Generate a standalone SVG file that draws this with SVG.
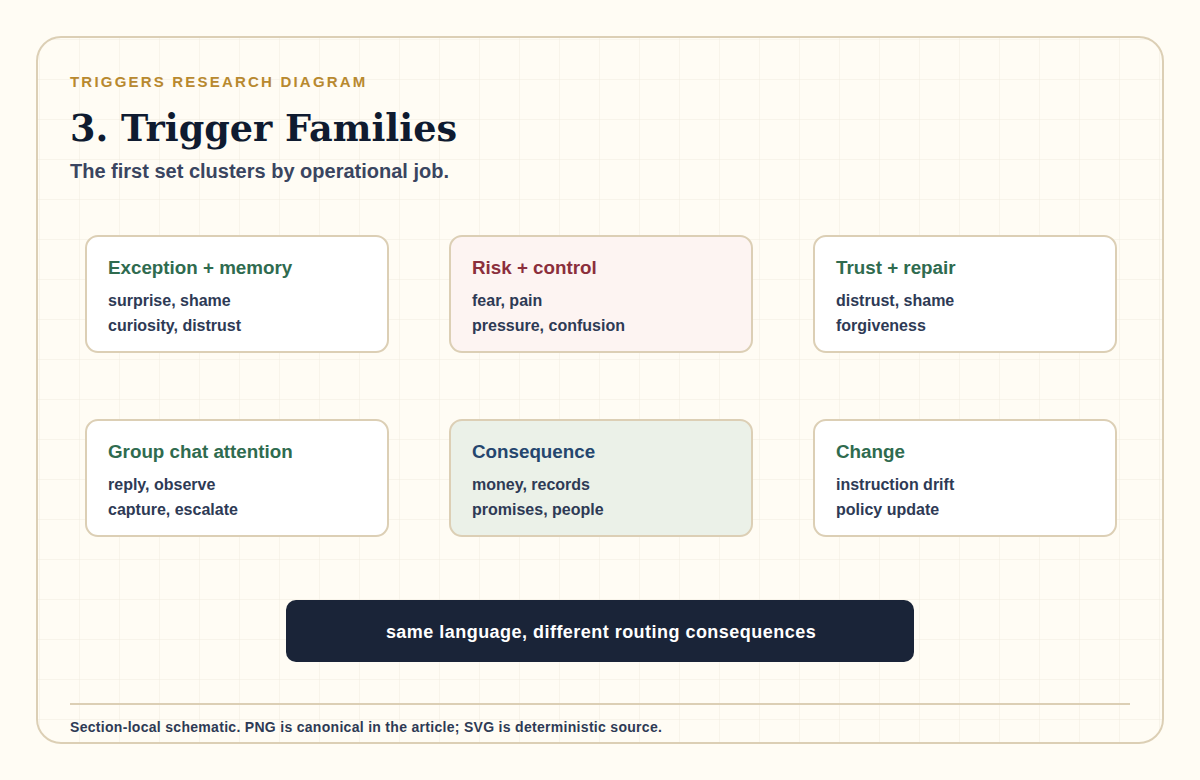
<svg xmlns="http://www.w3.org/2000/svg" width="1200" height="780" viewBox="0 0 1200 780">
<defs>
<pattern id="grid" x="0" y="0" width="40" height="40" patternUnits="userSpaceOnUse">
<path d="M40 0V40M0 40H40" fill="none" stroke="#f1ede0" stroke-width="1"/>
</pattern>
<style>
.node{fill:#ffffff;stroke:#dccfb5;stroke-width:2}
.ttl{font-family:"Liberation Sans",Arial,sans-serif;font-weight:bold;font-size:18.8px;fill:#2f6b4f}
.ln{font-family:"Liberation Sans",Arial,sans-serif;font-weight:bold;font-size:16px;fill:#2e3a55}
</style>
</defs>
<rect width="1200" height="780" fill="#fffcf4"/>
<rect x="37" y="37" width="1126" height="706" rx="24" fill="url(#grid)"/>
<rect x="37" y="37" width="1126" height="706" rx="24" fill="none" stroke="#dccfb5" stroke-width="2"/>
<text x="70" y="87" font-family="Liberation Sans,Arial,sans-serif" font-weight="bold" font-size="15" letter-spacing="2.2" fill="#b8892f">TRIGGERS RESEARCH DIAGRAM</text>
<text x="70" y="141" font-family="DejaVu Serif,Liberation Serif,serif" font-weight="bold" font-size="36.6" fill="#0f1b30">3. Trigger Families</text>
<text x="70" y="178" font-family="Liberation Sans,Arial,sans-serif" font-weight="bold" font-size="20" fill="#3a4560">The first set clusters by operational job.</text>
<g id="connectors"/>
<g id="n1"><rect class="node" x="86" y="236" width="302" height="116" rx="12"/><text class="ttl" x="108" y="274">Exception + memory</text><text class="ln" x="108" y="306">surprise, shame</text><text class="ln" x="108" y="331">curiosity, distrust</text></g>
<g id="n2"><rect class="node" x="450" y="236" width="302" height="116" rx="12" style="fill:#fdf4f2"/><text class="ttl" x="472" y="274" style="fill:#8b2f3c">Risk + control</text><text class="ln" x="472" y="306">fear, pain</text><text class="ln" x="472" y="331">pressure, confusion</text></g>
<g id="n3"><rect class="node" x="814" y="236" width="302" height="116" rx="12"/><text class="ttl" x="836" y="274">Trust + repair</text><text class="ln" x="836" y="306">distrust, shame</text><text class="ln" x="836" y="331">forgiveness</text></g>
<g id="n4"><rect class="node" x="86" y="420" width="302" height="116" rx="12"/><text class="ttl" x="108" y="458">Group chat attention</text><text class="ln" x="108" y="490">reply, observe</text><text class="ln" x="108" y="515">capture, escalate</text></g>
<g id="n5"><rect class="node" x="450" y="420" width="302" height="116" rx="12" style="fill:#ebf1e8"/><text class="ttl" x="472" y="458" style="fill:#24466e">Consequence</text><text class="ln" x="472" y="490">money, records</text><text class="ln" x="472" y="515">promises, people</text></g>
<g id="n6"><rect class="node" x="814" y="420" width="302" height="116" rx="12"/><text class="ttl" x="836" y="458">Change</text><text class="ln" x="836" y="490">instruction drift</text><text class="ln" x="836" y="515">policy update</text></g>
<g id="banner"><rect x="286" y="600" width="628" height="62" rx="10" fill="#1a2438"/><text x="601" y="638" text-anchor="middle" font-family="Liberation Sans,Arial,sans-serif" font-weight="bold" font-size="18" letter-spacing="0.47" fill="#ffffff">same language, different routing consequences</text></g>
<line x1="70" y1="704" x2="1130" y2="704" stroke="#dccfb5" stroke-width="2"/>
<text x="70" y="732" font-family="Liberation Sans,Arial,sans-serif" font-weight="bold" font-size="14" letter-spacing="0.3" fill="#2e3a55">Section-local schematic. PNG is canonical in the article; SVG is deterministic source.</text>
</svg>
